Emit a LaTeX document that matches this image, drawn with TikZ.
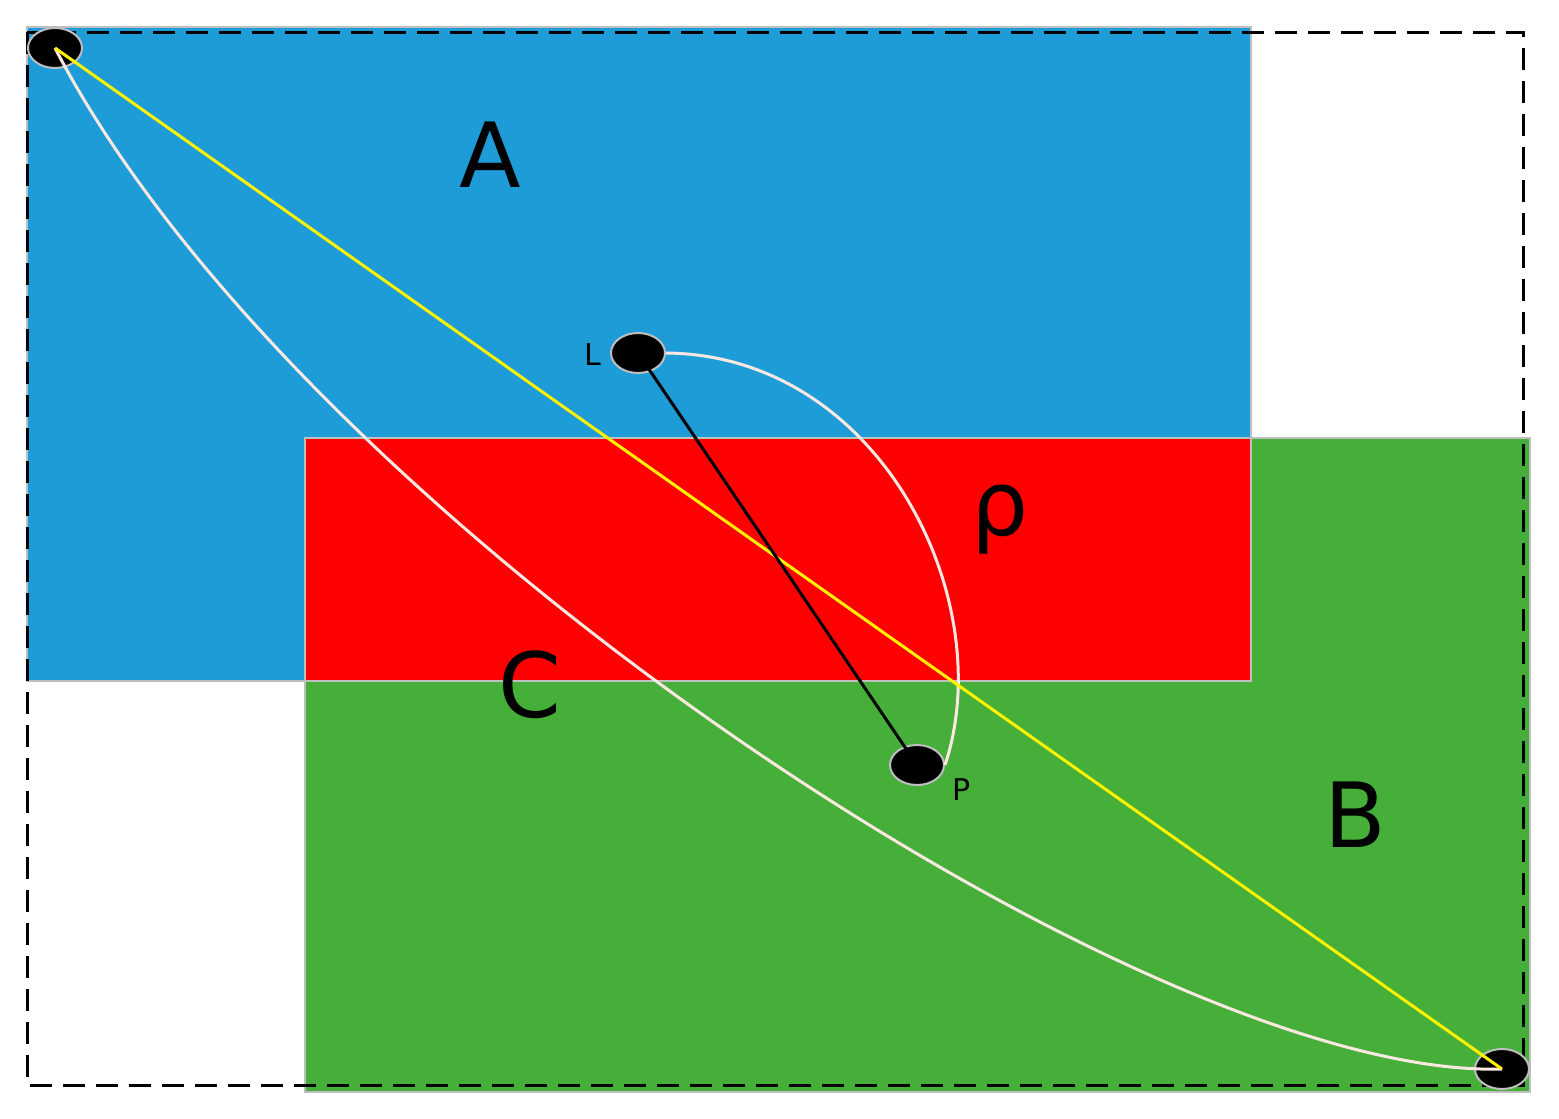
\documentclass[tikz,border=0pt]{standalone}
\usepackage{fontspec}
\setmainfont{DejaVu Sans}
\usepackage{tikz}
\usetikzlibrary{calc}
\definecolor{areablue}{HTML}{1E9CD7}
\definecolor{areagreen}{HTML}{46AF3A}
\definecolor{pathwhite}{HTML}{FBE9E1}
\tikzset{
  region/.style={draw=black!25,line width=2.5pt},
  dot/.style={ellipse,draw=black!25,fill=black,line width=2pt,minimum width=54pt,minimum height=40pt,inner sep=0pt},
  bigtxt/.style={font=\fontsize{90}{90}\selectfont},
  smalltxt/.style={font=\fontsize{30}{30}\selectfont}
}
\usetikzlibrary{shapes.geometric}
\begin{document}
\begin{tikzpicture}[x=1pt,y=1pt,yscale=-1]
  \useasboundingbox (0,0) rectangle (1559,1119);
  %Shape: Rectangle A
  \draw[region,fill=areablue] (27,27) rectangle (1251,681);
  %Shape: Rectangle B
  \draw[region,fill=areagreen] (305,438) rectangle (1530,1092);
  %Shape: Rectangle rho
  \draw[region,fill=red] (305,438) rectangle (1251,681);
  %Shape: dashed frame
  \draw[dashed,line width=3pt,dash pattern=on 22pt off 11pt] (27,32) rectangle (1523,1085);

  \node[dot] (s) at (55,48) {};
  \node[dot] (e) at (1502,1069) {};
  \node[dot] (l) at (638,353) {};
  \node[dot] (p) at (917,765) {};

  %Curve Lines
  \draw[pathwhite,line width=3pt] (s.center) .. controls (300,520) and (1150,1080) .. (e.center);
  \draw[pathwhite,line width=3pt] (l.east) .. controls (880,355) and (1000,600) .. (p.east);
  %straight lines
  \draw[yellow,line width=3pt] (s.center) -- (e.center);
  \draw[black,line width=3pt] (l.center) -- (p.center);

  \node[bigtxt] (ta) at (490,155) {A};
  \node[bigtxt] (tr) at (1000,520) {ρ};
  \node[bigtxt] (tc) at (530,685) {C};
  \node[bigtxt] (tb) at (1355,815) {B};
  \node[smalltxt] (tl) at (593,355) {L};
  \node[smalltxt] (tp) at (962,790) {P};
\end{tikzpicture}
\end{document}
